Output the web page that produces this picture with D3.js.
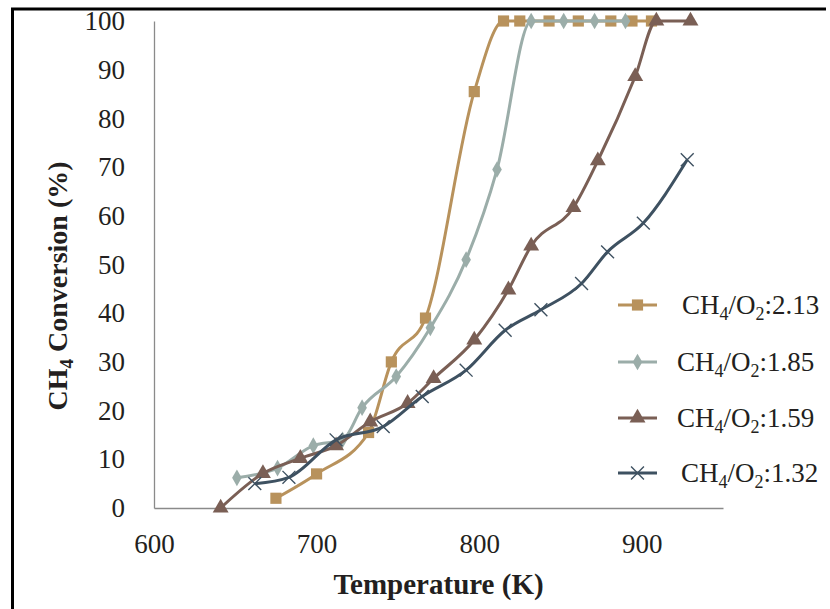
<!DOCTYPE html>
<html>
<head>
<meta charset="utf-8">
<script src="https://cdn.jsdelivr.net/npm/d3@7"></script>
<style>
  html, body { margin: 0; padding: 0; background: #fff; }
  svg { display: block; }
  text { font-family: "Liberation Serif", "Times New Roman", serif; fill: #231f20; }
</style>
</head>
<body>
<svg id="chart" width="830" height="609"></svg>
<script>
// CH4 conversion vs temperature at four CH4/O2 feed ratios
const ratios = ["2.13", "1.85", "1.59", "1.32"];
const colors = ["#b8925c", "#9bada9", "#7a5f55", "#3e5161"];
const markers = ["square", "diamond", "triangle", "times"];

const temp213 = [675, 700, 732, 746, 767, 797, 815, 825, 843, 861, 881, 894, 906];
const conv213 = [2, 7, 15.5, 30, 39, 85.5, 100, 100, 100, 100, 100, 100, 100];

const temp185 = [651, 676, 698, 716, 728, 749, 770, 792, 811, 832, 852, 871, 890];
const conv185 = [6.2, 8.2, 12.8, 14, 20.6, 27, 37, 51, 69.5, 100, 100, 100, 100];

const temp159 = [641, 667, 690, 712, 733, 756, 772, 797, 818, 832, 858, 873, 896, 909, 930];
const conv159 = [0, 7.1, 10.2, 12.8, 17.7, 21.5, 26.6, 34.5, 44.8, 53.8, 61.7, 71.3, 88.6, 100, 100];

const temp132 = [662, 683, 712, 741, 765, 792, 816, 838, 863, 879, 901, 928];
const conv132 = [5, 6.3, 14, 16.7, 22.9, 28.3, 36.5, 40.7, 46.1, 52.6, 58.5, 71.5];

const xTicks = [600, 700, 800, 900];
const yTicks = [0, 10, 20, 30, 40, 50, 60, 70, 80, 90, 100];

const series = [
  { temps: temp213, convs: conv213 },
  { temps: temp185, convs: conv185 },
  { temps: temp159, convs: conv159 },
  { temps: temp132, convs: conv132 }
].map((s, i) => ({
  ratio: ratios[i],
  color: colors[i],
  marker: markers[i],
  points: s.temps.map((t, j) => ({ t, c: s.convs[j] }))
}));

const svg = d3.select("#chart");

const x = d3.scaleLinear().domain([600, 950]).range([154, 723]);
const y = d3.scaleLinear().domain([0, 100]).range([508, 21]);

// outer frame (top and left edges)
svg.append("line").attr("x1", 11).attr("x2", 826).attr("y1", 9).attr("y2", 9)
  .attr("stroke", "#000").attr("stroke-width", 3);
svg.append("line").attr("x1", 12.5).attr("x2", 12.5).attr("y1", 8).attr("y2", 609)
  .attr("stroke", "#000").attr("stroke-width", 3);

// axes
const yAxis = svg.append("g")
  .attr("transform", `translate(${x(600)},0)`)
  .call(d3.axisLeft(y).tickValues(yTicks).tickSize(0).tickPadding(29));
const xAxis = svg.append("g")
  .attr("transform", `translate(0,${y(0)})`)
  .call(d3.axisBottom(x).tickValues(xTicks).tickSize(0).tickPadding(26));

[yAxis, xAxis].forEach(g => {
  g.select(".domain").attr("stroke", "#8a8a8a").attr("stroke-width", 1.3);
  g.selectAll(".tick text")
    .attr("font-family", "Liberation Serif, Times New Roman, serif")
    .attr("font-size", 27).attr("fill", "#231f20");
});

// axis titles
svg.append("text")
  .attr("x", (x(600) + x(950)) / 2).attr("y", 594)
  .attr("text-anchor", "middle")
  .attr("font-size", 29).attr("font-weight", "bold")
  .text("Temperature (K)");

const yTitle = svg.append("text")
  .attr("transform", "translate(67,286) rotate(-90)")
  .attr("text-anchor", "middle")
  .attr("font-size", 28).attr("font-weight", "bold");
yTitle.append("tspan").text("CH");
yTitle.append("tspan").attr("font-size", 19).attr("dy", 6).text("4");
yTitle.append("tspan").attr("dy", -6).text(" Conversion (%)");

// marker shapes
function markerPath(kind) {
  switch (kind) {
    case "square": return d3.symbol(d3.symbolSquare, 125)();
    case "diamond": return d3.symbol(d3.symbolDiamond, 80)();
    case "triangle": return d3.symbol(d3.symbolTriangle, 110)();
    default: return d3.symbol(d3.symbolTimes, 110)();
  }
}
function drawMarker(g, kind, color) {
  const p = g.append("path").attr("d", markerPath(kind));
  if (kind === "times") {
    p.attr("fill", "none").attr("stroke", color).attr("stroke-width", 1.4);
  } else {
    p.attr("fill", color).attr("stroke", "none");
  }
  return p;
}

// smoothed series lines with markers
const line = d3.line()
  .x(d => x(d.t))
  .y(d => y(d.c))
  .curve(d3.curveMonotoneX);

const plot = svg.append("g");
series.forEach(s => {
  const g = plot.append("g");
  g.append("path")
    .attr("d", line(s.points))
    .attr("fill", "none")
    .attr("stroke", s.color)
    .attr("stroke-width", 3)
    .attr("stroke-linejoin", "round");
  s.points.forEach(p => {
    const m = g.append("g").attr("transform", `translate(${x(p.t)},${y(p.c)})`);
    drawMarker(m, s.marker, s.color);
  });
});

// legend
const legendRows = [305, 362, 418, 473];
const legendTextX = [682, 677, 677, 681];
series.forEach((s, i) => {
  const ly = legendRows[i];
  const g = svg.append("g");
  g.append("line")
    .attr("x1", 618).attr("x2", 657).attr("y1", ly).attr("y2", ly)
    .attr("stroke", s.color).attr("stroke-width", 3);
  const m = g.append("g").attr("transform", `translate(637.5,${ly})`);
  drawMarker(m, s.marker, s.color);
  const t = g.append("text")
    .attr("x", legendTextX[i]).attr("y", ly + 9)
    .attr("font-size", 27);
  t.append("tspan").text("CH");
  t.append("tspan").attr("font-size", 18).attr("dy", 6).text("4");
  t.append("tspan").attr("dy", -6).text("/O");
  t.append("tspan").attr("font-size", 18).attr("dy", 6).text("2");
  t.append("tspan").attr("dy", -6).text(":" + s.ratio);
});
</script>
</body>
</html>
